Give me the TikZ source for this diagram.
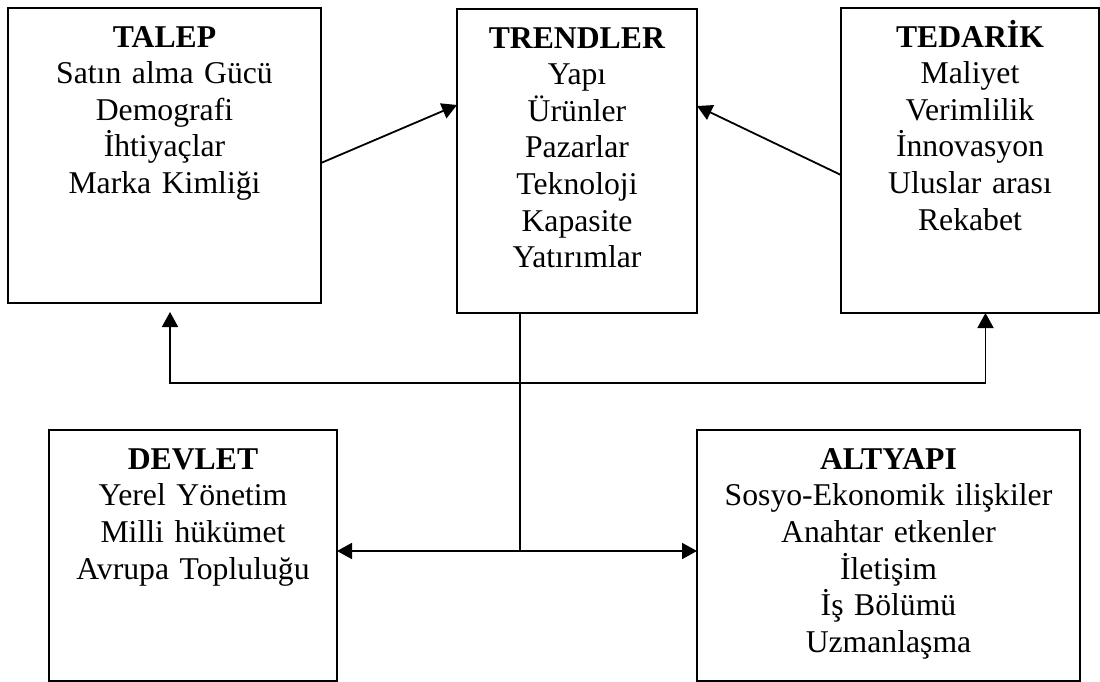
\documentclass[tikz,border=0pt]{standalone}
\usepackage{fontspec}
\setmainfont{Liberation Serif}
\usetikzlibrary{positioning,arrows.meta}

\tikzset{
  box/.style={draw, line width=2pt, inner sep=0pt, outer sep=0pt},
  boxtext/.style={inner sep=0pt, text width=#1, align=center, text height=26pt,
    font=\fontsize{31.7}{36.6}\selectfont},
  conn/.style={line width=1.8pt},
  arr/.style={conn, -{Triangle[length=15pt,width=16pt]}},
  twoarr/.style={conn, {Triangle[length=15pt,width=16pt]}-{Triangle[length=15pt,width=16pt]}},
}

\begin{document}
\begin{tikzpicture}[x=1pt, y=-1pt]
  \useasboundingbox (0,0) rectangle (1100,682);

  \node[box, minimum width=313pt, minimum height=295pt] (talep) at (164.5,155.5) {};
  \node[box, minimum width=240pt, minimum height=304pt] (trendler) at (577,161) {};
  \node[box, minimum width=258pt, minimum height=305pt] (tedarik) at (970,160.5) {};
  \node[box, minimum width=288pt, minimum height=251pt] (devlet) at (193,555.5) {};
  \node[box, minimum width=383pt, minimum height=251pt] (altyapi) at (888.5,555.5) {};

  \node[boxtext=300pt, below=13pt of talep.north] (tTalep)
    {\textbf{TALEP}\\Satın alma Gücü\\Demografi\\İhtiyaçlar\\Marka Kimliği};
  \node[boxtext=230pt, below=13pt of trendler.north] (tTrendler)
    {\textbf{TRENDLER}\\Yapı\\Ürünler\\Pazarlar\\Teknoloji\\Kapasite\\Yatırımlar};
  \node[boxtext=248pt, below=13pt of tedarik.north] (tTedarik)
    {\textbf{TEDARİK}\\Maliyet\\Verimlilik\\İnnovasyon\\Uluslar arası\\Rekabet};
  \node[boxtext=278pt, below=13pt of devlet.north] (tDevlet)
    {\textbf{DEVLET}\\Yerel Yönetim\\Milli hükümet\\Avrupa Topluluğu};
  \node[boxtext=373pt, below=13pt of altyapi.north] (tAltyapi)
    {\textbf{ALTYAPI}\\Sosyo-Ekonomik ilişkiler\\Anahtar etkenler\\İletişim\\İş Bölümü\\Uzmanlaşma};

  \coordinate (hub) at (520,383);
  \coordinate (fork) at (520,551);

  \draw[arr] ([yshift=-7.5pt]talep.east) -- ([yshift=56pt]trendler.west);
  \draw[arr] ([yshift=-14.5pt]tedarik.west) -- ([yshift=55pt]trendler.east);
  \draw[conn] ([xshift=-57pt]trendler.south) -- (fork);
  \draw[arr] (hub) -| ([xshift=5.5pt,yshift=-9pt]talep.south);
  \draw[arr] (hub) -| ([xshift=15.5pt]tedarik.south);
  \draw[twoarr] ([yshift=4.5pt]devlet.east) -- ([yshift=4.5pt]altyapi.west);
\end{tikzpicture}
\end{document}
